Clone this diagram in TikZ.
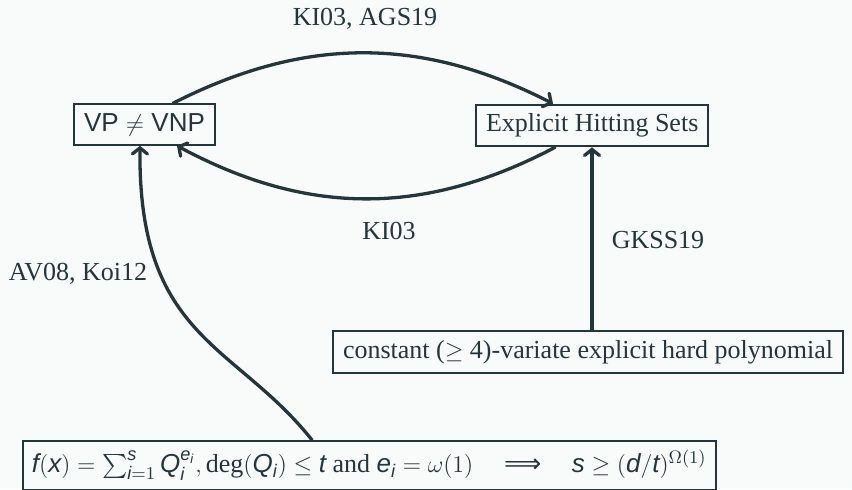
\documentclass[tikz,border=0pt]{standalone}
\usepackage{amsmath}
\usepackage{fontspec}
\setmainfont{Liberation Serif}
\setsansfont{Liberation Sans}
\newfontfamily\libsans{Liberation Sans}[NFSSFamily=libsans]
\newfontfamily\arrowfont{DejaVu Sans}
\DeclareMathAlphabet{\mathsfit}{TU}{libsans}{m}{it}
\newcommand{\sv}[1]{\mathsfit{#1}}
\newcommand{\thenarrow}{\mathrel{\hskip 12pt\hbox{\arrowfont ⟹}\hskip 12pt}}
\usetikzlibrary{arrows.meta}

\definecolor{ink}{RGB}{36,54,59}
\definecolor{paper}{RGB}{249,250,250}

\tikzset{
  result/.style={draw=ink, line width=1pt, inner xsep=5pt, inner ysep=4.5pt,
    text=ink, font=\fontsize{13}{15}\selectfont},
  cite/.style={text=ink, font=\fontsize{13}{15}\selectfont, inner sep=0pt},
  implies/.style={draw=ink, line width=1.65pt, line cap=round,
    -{Straight Barb[length=3pt,width=7.5pt,line cap=round]}},
}

\begin{document}
\begin{tikzpicture}[x=0.5pt, y=-0.5pt]
  \fill[paper] (0,0) rectangle (852,489);
  \useasboundingbox (0,0) rectangle (852,489);

  % statements
  \node[result, anchor=west] (vp) at (73,124.5) {\sffamily VP $\neq$ VNP};
  \node[result, anchor=west] (ehs) at (475,125.5) {Explicit Hitting Sets};
  \node[result, anchor=west] (cons) at (332,352) {constant ($\geq$ 4)-variate explicit hard polynomial};
  \node[result, anchor=north west, inner xsep=4.5pt] (fbox) at (22,440)
    {$\sv{f}(\sv{x}) = \sum_{\sv{i}=1}^{\sv{s}} \sv{Q}_{\sv{i}}^{\sv{e}_{\sv{i}}}, \deg(\sv{Q}_{\sv{i}}) \leq \sv{t}$ and $\sv{e}_{\sv{i}} = \omega(1) \thenarrow \sv{s} \geq (\sv{d}/\sv{t})^{\Omega(1)}$};

  % references
  \node[cite] (l1) at (365,19) {KI03, AGS19};
  \node[cite] (l2) at (389,231) {KI03};
  \node[cite] (l3) at (658,240) {GKSS19};
  \node[cite] (l4) at (78,274) {AV08, Koi12};

  % implications
  \coordinate (vx) at (592,0);
  \draw[implies] ([xshift=50pt]vp.north west) to[bend left=27] ([xshift=39pt]ehs.north west);
  \draw[implies] ([xshift=40pt]ehs.south west) to[bend left=28] ([xshift=52pt]vp.south west);
  \draw[implies] (cons.north -| vx) -- (ehs.south -| vx);
  \draw[implies] ([xshift=145pt]fbox.north west) .. controls +(-77,-97) and +(-2,193) .. ([xshift=33.5pt]vp.south west);
\end{tikzpicture}
\end{document}
